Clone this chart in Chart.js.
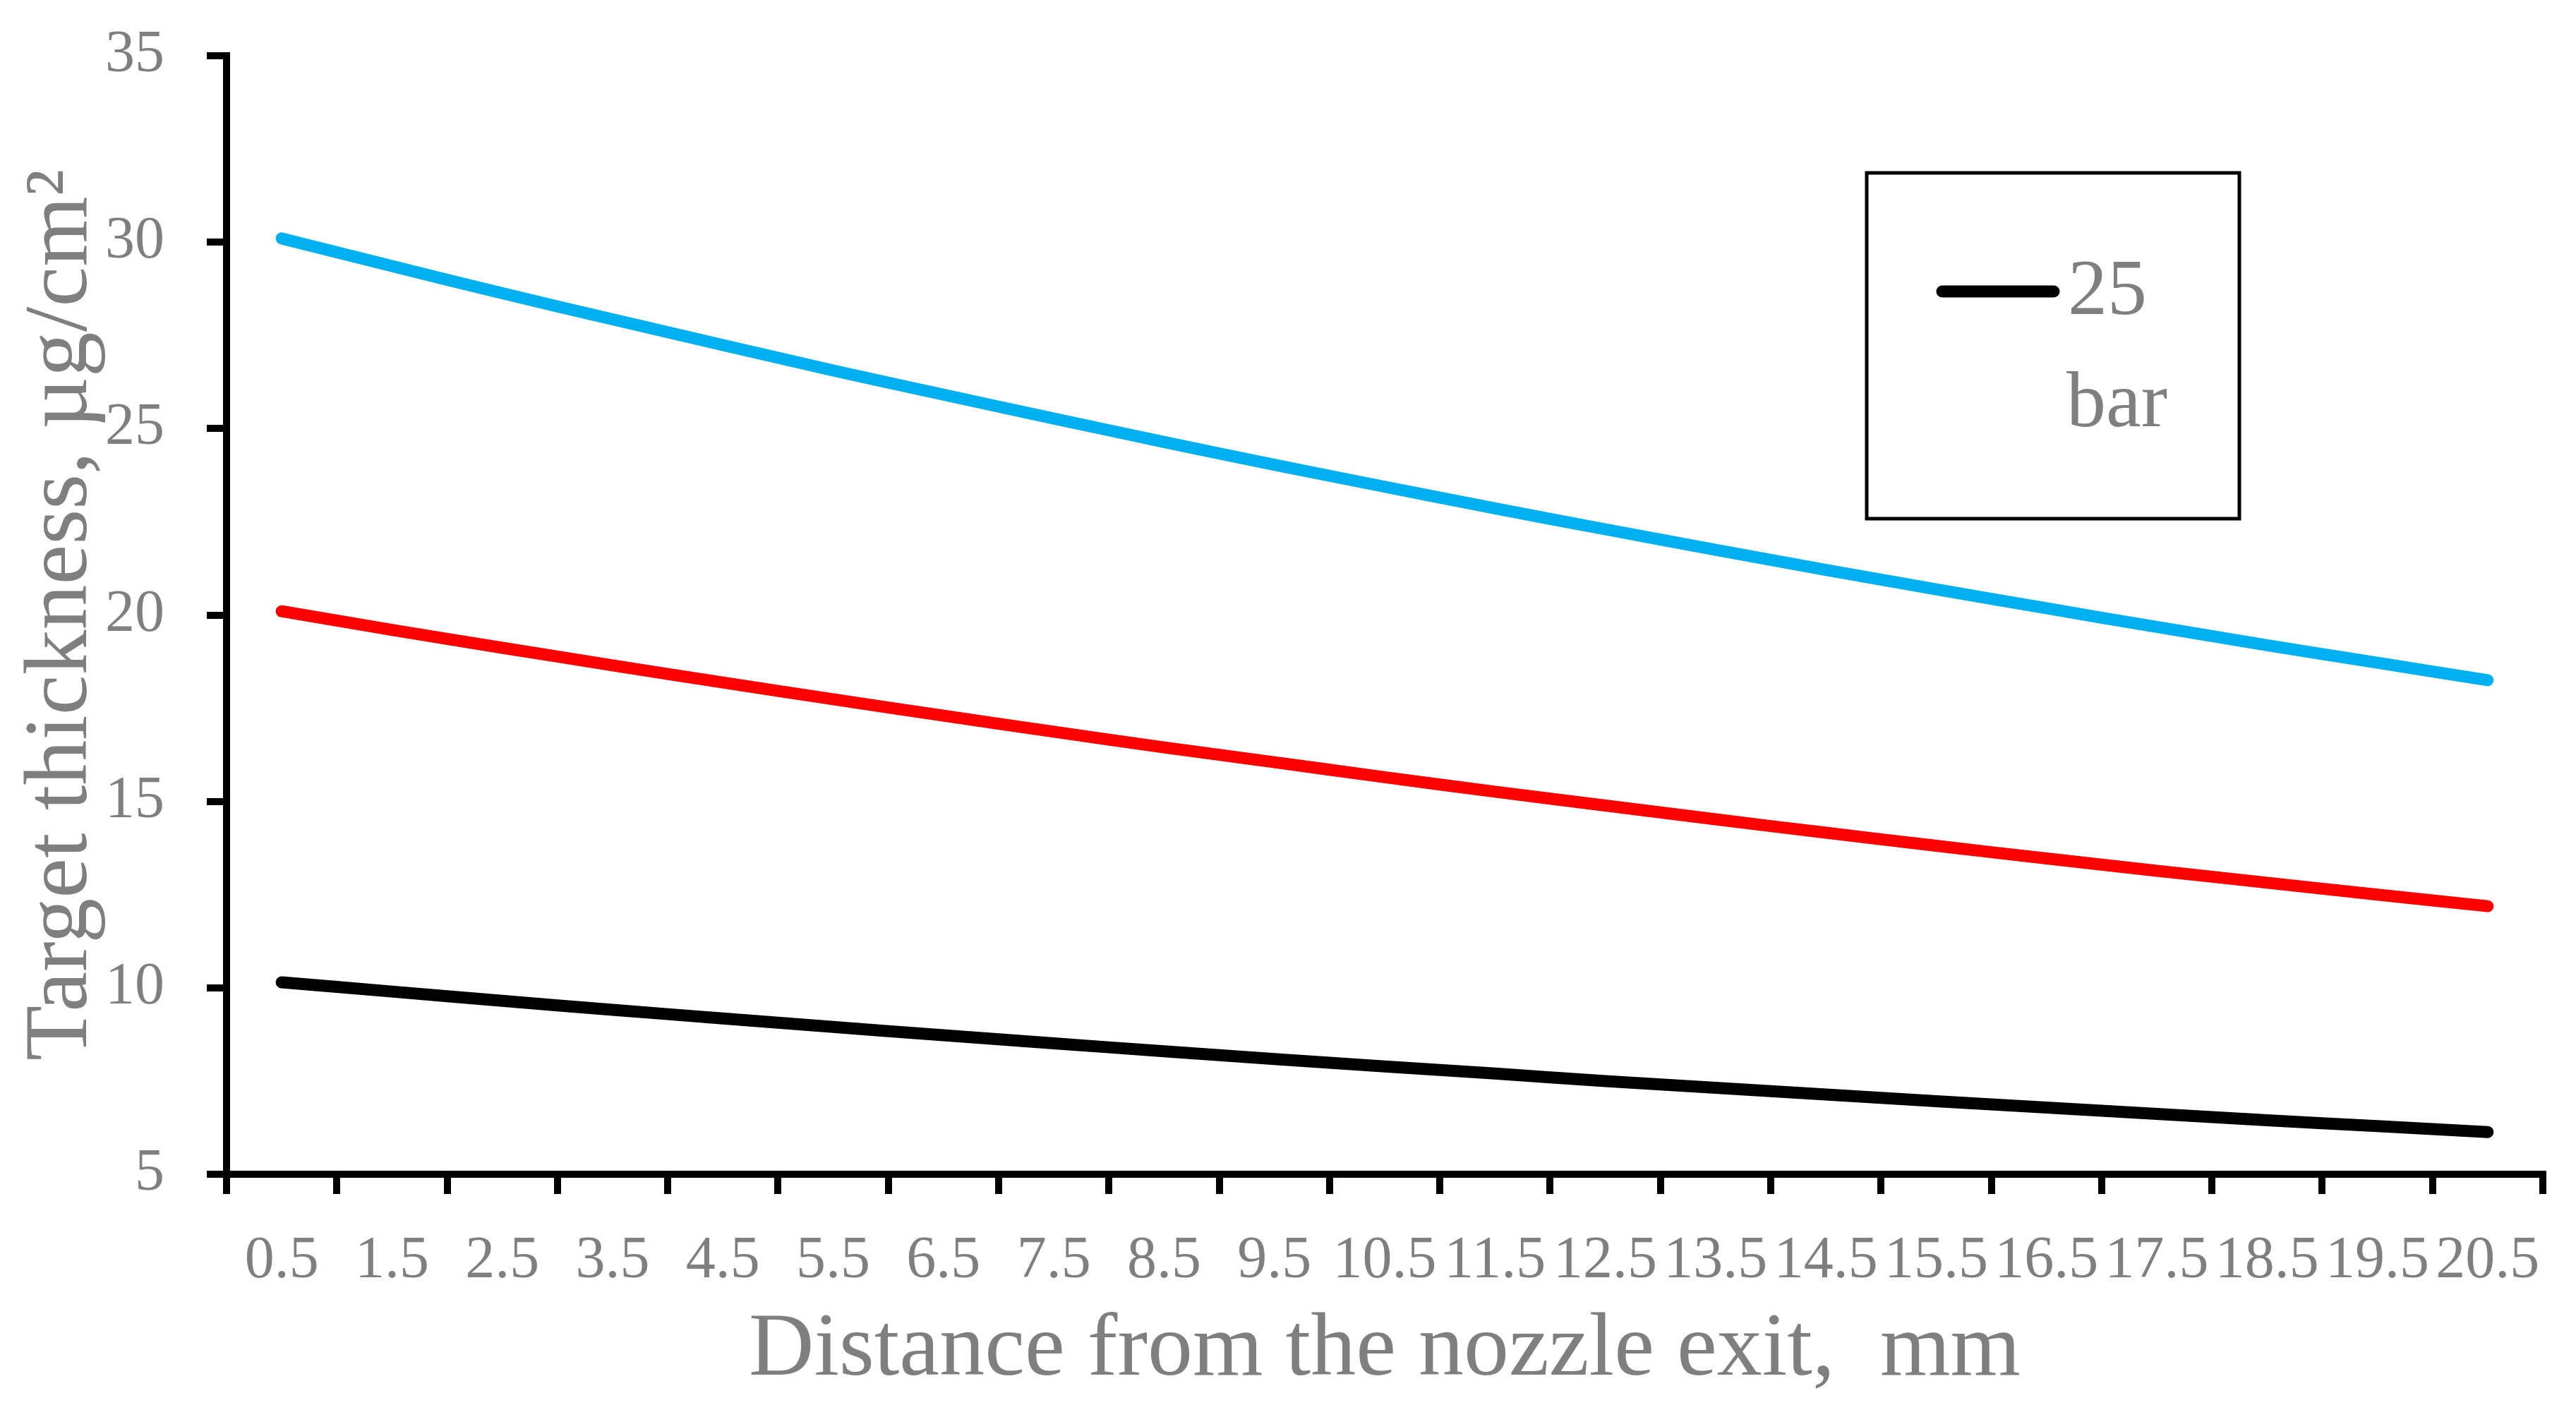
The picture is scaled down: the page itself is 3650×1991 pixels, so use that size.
<!DOCTYPE html>
<html lang="en">
<head>
  <meta charset="UTF-8">
  <title>Target thickness vs distance</title>
  <script src="https://cdn.jsdelivr.net/npm/chart.js@4"></script>
  <style>
    html, body { margin: 0; padding: 0; background: #fff; }
    #wrap { width: 3650px; height: 1991px; }
  </style>
</head>
<body>
  <div id="wrap">
    <canvas id="graf" width="3650" height="1991"></canvas>
  </div>

  <script>
    /* --- datos --- */
    const distancias = ['0.5','1.5','2.5','3.5','4.5','5.5','6.5','7.5','8.5','9.5','10.5',
                        '11.5','12.5','13.5','14.5','15.5','16.5','17.5','18.5','19.5','20.5'];

    const serieAzul  = [30.10, 29.36, 28.63, 27.93, 27.24, 26.56, 25.91, 25.27, 24.64, 24.03, 23.44,
                        22.86, 22.30, 21.75, 21.21, 20.69, 20.18, 19.68, 19.19, 18.72, 18.25];
    const serieRoja  = [20.10, 19.60, 19.12, 18.65, 18.19, 17.74, 17.30, 16.87, 16.45, 16.05, 15.65,
                        15.26, 14.89, 14.52, 14.16, 13.81, 13.47, 13.14, 12.82, 12.50, 12.19];
    const serieNegra = [10.15, 9.90, 9.65, 9.41, 9.18, 8.95, 8.73, 8.51, 8.30, 8.09, 7.89,
                        7.70, 7.50, 7.32, 7.14, 6.96, 6.79, 6.62, 6.45, 6.29, 6.13];

    const yTicks = [5, 10, 15, 20, 25, 30, 35];

    const GRIS = '#7f7f7f';
    const FUENTE = '"Liberation Serif", "Times New Roman", serif';

    /* leyenda a mano: sólo la serie negra, como en el original */
    const leyenda = {
      id: 'leyenda',
      afterDraw(chart) {
        const ctx = chart.ctx;
        const ds  = chart.data.datasets[2];
        ctx.save();
        ctx.strokeStyle = '#000';
        ctx.lineWidth = 5;
        ctx.strokeRect(2645, 245, 528, 490);

        ctx.strokeStyle = ds.borderColor;
        ctx.lineWidth = 17;
        ctx.lineCap = 'round';
        ctx.beginPath();
        ctx.moveTo(2752, 413);
        ctx.lineTo(2910, 413);
        ctx.stroke();

        ctx.fillStyle = GRIS;
        ctx.font = '112px ' + FUENTE;
        ctx.textBaseline = 'alphabetic';
        const [l1, l2] = ds.label.split(' ');
        ctx.fillText(l1, 2930, 445);
        ctx.fillText(l2, 2928, 604);
        ctx.restore();
      }
    };

    const linea = (label, data, color) => ({
      label, data,
      borderColor: color,
      backgroundColor: color,
      borderWidth: 17,
      borderCapStyle: 'round',
      borderJoinStyle: 'round',
      pointRadius: 0,
      tension: 0.3,
      fill: false
    });

    /* tamaños fijos de ejes para que el área de trazado caiga donde el original */
    const fijarY = s => { s.width = 311; s.paddingTop = 0; s.paddingBottom = 0; };
    const fijarX = s => { s.height = 327; s.paddingLeft = 0; s.paddingRight = 0; };

    new Chart(document.getElementById('graf'), {
      type: 'line',
      data: {
        labels: distancias,
        datasets: [
          linea('75 bar', serieAzul,  '#00b0f0'),
          linea('50 bar', serieRoja,  '#ff0000'),
          linea('25 bar', serieNegra, '#000000')
        ]
      },
      options: {
        responsive: false,
        devicePixelRatio: 1,
        animation: false,
        layout: { padding: { left: 10, top: 79, right: 47, bottom: 0 } },
        plugins: {
          legend: { display: false },
          tooltip: { enabled: false }
        },
        scales: {
          x: {
            offset: true,
            afterFit: fijarX,
            grid: {
              offset: true,
              drawOnChartArea: false,
              drawTicks: true,
              tickLength: 28,
              tickWidth: 10,
              tickColor: '#000',
              color: '#000',
              lineWidth: 10
            },
            border: { display: true, color: '#000', width: 10 },
            ticks: {
              autoSkip: false,
              maxRotation: 0,
              padding: 46,
              color: GRIS,
              font: { family: FUENTE, size: 84 }
            },
            title: {
              display: true,
              text: 'Distance from the nozzle exit,  mm',
              color: GRIS,
              font: { family: FUENTE, size: 128 },
              padding: { top: 0, bottom: 0 }
            }
          },
          y: {
            min: 5,
            max: 35,
            afterFit: fijarY,
            afterBuildTicks: s => { s.ticks = yTicks.map(v => ({ value: v })); },
            grid: {
              drawOnChartArea: false,
              drawTicks: true,
              tickLength: 28,
              tickWidth: 10,
              tickColor: '#000',
              color: '#000',
              lineWidth: 10
            },
            border: { display: true, color: '#000', width: 10 },
            ticks: {
              padding: 60,
              color: GRIS,
              font: { family: FUENTE, size: 84 }
            },
            title: {
              display: true,
              text: 'Target thickness, µg/cm²',
              color: GRIS,
              font: { family: FUENTE, size: 128 },
              padding: { top: 2, bottom: 0 }
            }
          }
        }
      },
      plugins: [leyenda]
    });
  </script>
</body>
</html>
